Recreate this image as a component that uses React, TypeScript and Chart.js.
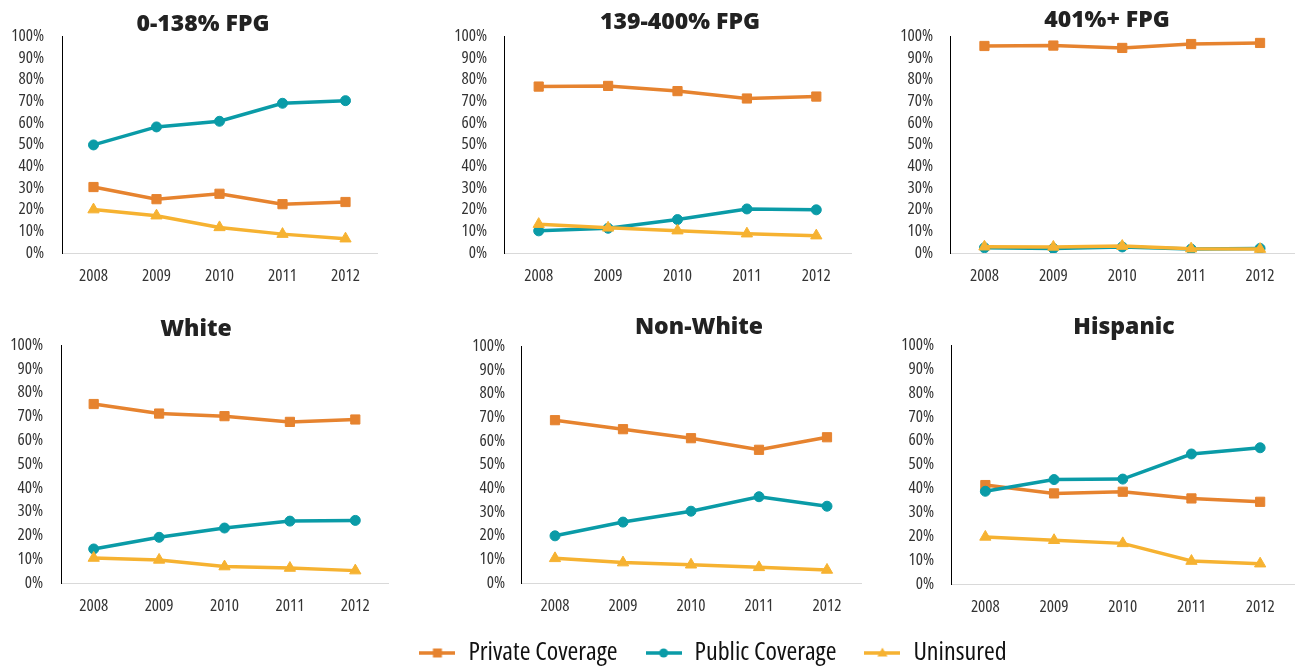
import React, { useEffect, useRef } from 'react';
import { Chart, registerables } from 'chart.js';

Chart.register(...registerables);

// ---------------- data ----------------
const YEARS = ['2008', '2009', '2010', '2011', '2012'];
const Y_MIN = 0;
const Y_MAX = 100;
const Y_STEP = 10;
const SERIES_NAMES = ['Private Coverage', 'Public Coverage', 'Uninsured'];
const PANEL_TITLES = ['0-138% FPG', '139-400% FPG', '401%+ FPG', 'White', 'Non-White', 'Hispanic'];

const FPG_0_138_PRIVATE = [30.4, 24.8, 27.3, 22.5, 23.5];
const FPG_0_138_PUBLIC = [49.8, 58.1, 60.7, 69.0, 70.2];
const FPG_0_138_UNINSURED = [20.0, 17.2, 11.8, 8.7, 6.6];

const FPG_139_400_PRIVATE = [76.7, 77.0, 74.6, 71.2, 72.1];
const FPG_139_400_PUBLIC = [10.2, 11.4, 15.4, 20.3, 19.9];
const FPG_139_400_UNINSURED = [13.3, 11.6, 10.3, 8.9, 8.0];

const FPG_401_PRIVATE = [95.4, 95.6, 94.5, 96.3, 96.8];
const FPG_401_PUBLIC = [2.4, 2.1, 2.8, 1.8, 2.1];
const FPG_401_UNINSURED = [2.9, 2.8, 3.2, 2.0, 1.8];

const WHITE_PRIVATE = [75.2, 71.2, 70.1, 67.7, 68.7];
const WHITE_PUBLIC = [14.3, 19.2, 23.1, 26.0, 26.3];
const WHITE_UNINSURED = [10.5, 9.7, 6.9, 6.3, 5.2];

const NONWHITE_PRIVATE = [68.7, 64.9, 61.1, 56.2, 61.5];
const NONWHITE_PUBLIC = [19.9, 25.7, 30.3, 36.4, 32.4];
const NONWHITE_UNINSURED = [10.4, 8.6, 7.7, 6.6, 5.5];

const HISPANIC_PRIVATE = [41.4, 37.9, 38.6, 35.8, 34.4];
const HISPANIC_PUBLIC = [38.8, 43.7, 43.9, 54.4, 57.0];
const HISPANIC_UNINSURED = [19.7, 18.3, 17.0, 9.6, 8.5];

const PANEL_SERIES = [
  [FPG_0_138_PRIVATE, FPG_0_138_PUBLIC, FPG_0_138_UNINSURED],
  [FPG_139_400_PRIVATE, FPG_139_400_PUBLIC, FPG_139_400_UNINSURED],
  [FPG_401_PRIVATE, FPG_401_PUBLIC, FPG_401_UNINSURED],
  [WHITE_PRIVATE, WHITE_PUBLIC, WHITE_UNINSURED],
  [NONWHITE_PRIVATE, NONWHITE_PUBLIC, NONWHITE_UNINSURED],
  [HISPANIC_PRIVATE, HISPANIC_PUBLIC, HISPANIC_UNINSURED],
];

// ---------------- styles / layout ----------------
const COLORS = ['#E6832F', '#0A9BA7', '#F6B231'];
const POINT_STYLES = ['rect', 'circle', 'triangle'];
const POINT_RADII = [6.5, 5, 6.5];
const DRAW_ORDER = [2, 1, 0];

const X_AXIS_H = 40;

const LAYOUT = [
  { cl: 0, ct: 0, cw: 420, ch: 300, pl: 62, pr: 377, pt: 36, pb: 253, tx: 203, ty: 24, tp: 18 },
  { cl: 442, ct: 0, cw: 419, ch: 300, pl: 504, pr: 851, pt: 36, pb: 253, tx: 680, ty: 22, tp: 17 },
  { cl: 888, ct: 0, cw: 414, ch: 300, pl: 950, pr: 1302, pt: 36, pb: 253, tx: 1107, ty: 20, tp: 17 },
  { cl: 0, ct: 300, cw: 420, ch: 330, pl: 61, pr: 388, pt: 345, pb: 583, tx: 196, ty: 329, tp: 18 },
  { cl: 459, ct: 300, cw: 412, ch: 330, pl: 521, pr: 861, pt: 346, pb: 583, tx: 699, ty: 327, tp: 16 },
  { cl: 889, ct: 300, cw: 413, ch: 330, pl: 951, pr: 1297, pt: 345, pb: 584, tx: 1124, ty: 327, tp: 17 },
];

// legend canvas runs below the page bottom (clipped by the wrapper) so the
// legend box gets enough room; legend row itself sits at y≈652
const LEGEND_BOX = { left: 124, top: 572, width: 1178, height: 260, padTop: 40 };

// ---------- condensed font selection ----------
const FONT_CANDIDATES = [
  { weight: 'normal', family: "'Liberation Sans Narrow'" },
  { weight: 'normal', family: "'DejaVu Sans Condensed'" },
  { weight: 'condensed', family: "'Noto Sans'" },
  { weight: 'condensed', family: "'Open Sans'" },
  { weight: 'condensed', family: "'DejaVu Sans'" },
  { weight: 'normal', family: "'Roboto'" },
  { weight: 'normal', family: "'Liberation Sans'" },
];

const TITLE_CANDIDATES = [
  { weight: '900 semi-condensed', family: "'Noto Sans'" },
  { weight: '900', family: "'Inter'" },
  { weight: '900', family: "'Lato'" },
  { weight: 'bold', family: "'Liberation Sans'" },
];

function installed(ctx: CanvasRenderingContext2D, weight: string, family: string) {
  ctx.font = `${weight} 16px ${family}, monospace`;
  const w1 = ctx.measureText('100% Wg Hispanic').width;
  ctx.font = `${weight} 16px ${family}, serif`;
  const w2 = ctx.measureText('100% Wg Hispanic').width;
  return Math.abs(w1 - w2) < 0.01;
}

function pickFont() {
  const ctx = document.createElement('canvas').getContext('2d')!;
  const target = 33; // width of "100%" at 16px in the reference
  let best = { weight: 'normal', family: "'Liberation Sans'", w: 41 };
  let bestErr = Infinity;
  for (const c of FONT_CANDIDATES) {
    if (!installed(ctx, c.weight, c.family)) continue;
    ctx.font = `${c.weight} 16px ${c.family}`;
    const w = ctx.measureText('100%').width;
    const err = Math.abs(w - target);
    if (err < bestErr) {
      bestErr = err;
      best = { weight: c.weight, family: c.family, w };
    }
  }
  const scale = Math.max(0.875, Math.min(1.15, target / best.w));
  return { weight: best.weight, family: best.family + ', sans-serif', scale };
}

function pickTitleFont() {
  const ctx = document.createElement('canvas').getContext('2d')!;
  const target = 133; // width of "0-138% FPG" in the reference
  for (const c of TITLE_CANDIDATES) {
    if (!installed(ctx, c.weight, c.family)) continue;
    ctx.font = `${c.weight} 25px ${c.family}`;
    const w = ctx.measureText('0-138% FPG').width;
    const size = (25 * target) / w;
    if (size >= 22.5 && size <= 27) return `${c.weight} ${size.toFixed(1)}px ${c.family}, sans-serif`;
  }
  return "bold 23px 'Liberation Sans', Arial, sans-serif";
}

function makeTitlePlugin(text: string, x: number, y: number, font: string) {
  return {
    id: 'panelTitle',
    afterDraw(chart: any) {
      const ctx = chart.ctx;
      ctx.save();
      ctx.font = font;
      ctx.fillStyle = '#222222';
      ctx.textAlign = 'center';
      ctx.textBaseline = 'middle';
      ctx.fillText(text, x, y);
      ctx.restore();
    },
  };
}

function makeLegendMarker(i: number) {
  const c = document.createElement('canvas');
  c.width = 36;
  c.height = 16;
  const ctx = c.getContext('2d')!;
  ctx.strokeStyle = COLORS[i];
  ctx.fillStyle = COLORS[i];
  ctx.lineWidth = 3.5;
  ctx.beginPath();
  ctx.moveTo(0, 8);
  ctx.lineTo(36, 8);
  ctx.stroke();
  ctx.beginPath();
  if (i === 0) {
    ctx.rect(13.5, 3.5, 9, 9);
  } else if (i === 1) {
    ctx.arc(18, 8, 4.5, 0, Math.PI * 2);
  } else {
    ctx.moveTo(18, 2.5);
    ctx.lineTo(23, 11.5);
    ctx.lineTo(13, 11.5);
    ctx.closePath();
  }
  ctx.fill();
  return c;
}

function Panel({ index }: { index: number }) {
  const ref = useRef<HTMLCanvasElement>(null);
  const L = LAYOUT[index];
  useEffect(() => {
    const f = pickFont();
    const titleFont = pickTitleFont();
    const tickSize = Math.round(16 * f.scale * 2) / 2;
    const yW = L.pl - L.cl;
    const chart = new Chart(ref.current!, {
      type: 'line',
      data: {
        labels: YEARS,
        datasets: PANEL_SERIES[index].map((vals, i) => ({
          label: SERIES_NAMES[i],
          data: vals,
          borderColor: COLORS[i],
          backgroundColor: COLORS[i],
          borderWidth: 3.5,
          pointStyle: POINT_STYLES[i] as any,
          pointRadius: POINT_RADII[i],
          pointBorderWidth: 1,
          pointBorderColor: COLORS[i],
          pointBackgroundColor: COLORS[i],
          tension: 0,
          order: DRAW_ORDER[i],
        })),
      },
      options: {
        animation: false,
        responsive: false,
        devicePixelRatio: 1,
        layout: {
          padding: {
            left: 0,
            top: L.pt - L.ct,
            right: L.cl + L.cw - L.pr,
            bottom: L.ct + L.ch - L.pb - X_AXIS_H,
          },
        },
        plugins: {
          legend: { display: false },
          title: { display: false },
          tooltip: { enabled: false },
        },
        scales: {
          x: {
            offset: true,
            grid: { display: false, drawTicks: false },
            border: { display: true, color: '#D9D9D9', width: 1 },
            ticks: {
              padding: 13,
              color: '#333333',
              font: { family: f.family, size: tickSize, weight: f.weight as any, lineHeight: 1.2 },
              maxRotation: 0,
              autoSkip: false,
            },
            afterFit: (s: any) => {
              s.height = X_AXIS_H;
            },
          },
          y: {
            min: Y_MIN,
            max: Y_MAX,
            grid: { display: false, drawTicks: false },
            border: { display: true, color: '#000000', width: 1 },
            ticks: {
              stepSize: Y_STEP,
              padding: L.tp,
              autoSkip: false,
              color: '#333333',
              font: { family: f.family, size: tickSize, weight: f.weight as any },
              callback: (v: any) => v + '%',
            },
            afterFit: (s: any) => {
              s.width = yW;
            },
          },
        },
      },
      plugins: [makeTitlePlugin(PANEL_TITLES[index], L.tx - L.cl, L.ty - L.ct, titleFont)],
    });
    return () => chart.destroy();
  }, [index]);
  return (
    <canvas
      ref={ref}
      width={L.cw}
      height={L.ch}
      style={{ position: 'absolute', left: L.cl, top: L.ct, width: L.cw, height: L.ch }}
    />
  );
}

function LegendChart() {
  const ref = useRef<HTMLCanvasElement>(null);
  useEffect(() => {
    const f = pickFont();
    const markers = [0, 1, 2].map(makeLegendMarker);
    const chart = new Chart(ref.current!, {
      type: 'line',
      data: {
        labels: [],
        datasets: SERIES_NAMES.map((name, i) => ({
          label: name,
          data: [],
          borderColor: COLORS[i],
          backgroundColor: COLORS[i],
        })),
      },
      options: {
        animation: false,
        responsive: false,
        devicePixelRatio: 1,
        layout: { padding: { top: LEGEND_BOX.padTop } },
        scales: { x: { display: false }, y: { display: false } },
        plugins: {
          tooltip: { enabled: false },
          legend: {
            display: true,
            position: 'top',
            align: 'center',
            labels: {
              usePointStyle: true,
              pointStyleWidth: 36,
              boxHeight: 16,
              padding: 28,
              color: '#111111',
              font: { family: f.family, size: Math.round(24 * f.scale), weight: f.weight as any },
              generateLabels: () =>
                SERIES_NAMES.map((name, i) => ({
                  text: name,
                  fillStyle: COLORS[i],
                  strokeStyle: COLORS[i],
                  lineWidth: 0,
                  pointStyle: markers[i] as any,
                  hidden: false,
                  datasetIndex: i,
                  fontColor: '#111111',
                })),
            },
          },
        },
      },
    });
    return () => chart.destroy();
  }, []);
  return (
    <canvas
      ref={ref}
      width={LEGEND_BOX.width}
      height={LEGEND_BOX.height}
      style={{
        position: 'absolute',
        left: LEGEND_BOX.left,
        top: LEGEND_BOX.top,
        width: LEGEND_BOX.width,
        height: LEGEND_BOX.height,
      }}
    />
  );
}

export default function App() {
  return (
    <div
      style={{
        position: 'fixed',
        left: 0,
        top: 0,
        width: 1302,
        height: 666,
        background: '#FFFFFF',
        overflow: 'hidden',
      }}
    >
      {LAYOUT.map((_, i) => (
        <Panel key={i} index={i} />
      ))}
      <LegendChart />
    </div>
  );
}
